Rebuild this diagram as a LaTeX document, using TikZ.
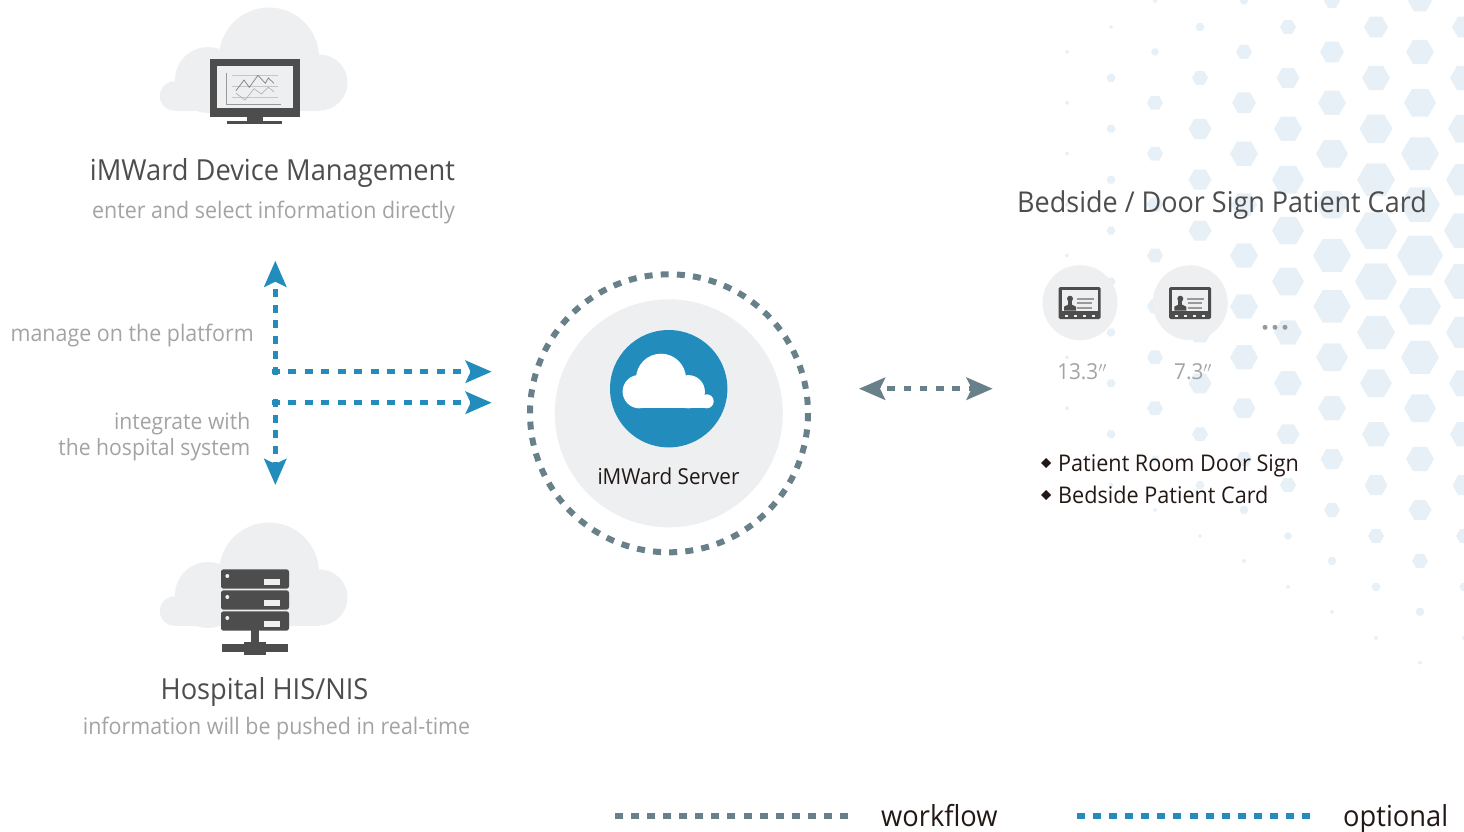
\documentclass[tikz,border=0pt]{standalone}
\usepackage{fontspec}
\setmainfont{Open Sans}[FakeStretch=0.94]
\usetikzlibrary{arrows.meta}
\definecolor{cloudgray}{HTML}{EEEFF1}
\definecolor{icondark}{HTML}{4D4D4D}
\definecolor{serverblue}{HTML}{228DBD}
\definecolor{flowgray}{HTML}{688089}
\definecolor{hexblue}{HTML}{E6F0F6}
\definecolor{softtext}{HTML}{A3A3A3}
\definecolor{darktext}{HTML}{231815}
\tikzset{
  hexcell/.style={fill=hexblue},
  headtext/.style={font=\fontsize{29}{34}\selectfont,text=icondark,inner sep=0pt},
  softlabel/.style={font=\fontsize{22.8}{26}\selectfont,text=softtext,inner sep=0pt,align=right},
  darklabel/.style={font=\fontsize{23}{28}\selectfont,text=darktext,inner sep=0pt},
  legendtext/.style={font=\fontsize{29}{34}\selectfont,text=darktext,inner sep=0pt},
  optionalline/.style={serverblue,line width=5.5pt,dash pattern=on 8pt off 8.5pt},
  workflowline/.style={flowgray,line width=5.5pt,dash pattern=on 7.5pt off 8.8pt},
  bigtip/.style={-{Stealth[length=26pt,width=22pt,inset=5pt]}},
  cloudbg/.pic={
    \fill[cloudgray] (269,57.5) circle (50);
    \fill[cloudgray] (208,80) circle (33);
    \fill[cloudgray] (174.5,96) circle (14.7);
    \fill[cloudgray] (319.5,82.5) circle (28);
    \fill[cloudgray] (175,85) rectangle (320,110.7);
  },
  devicecard/.pic={
    \fill[cloudgray] (0,0) circle (37.5);
    \fill[icondark,rounded corners=1.5pt] (-21.3,-15.7) rectangle (20.7,16.3);
    \fill[cloudgray] (-18.3,-13) rectangle (17.7,8);
    \fill[icondark] (-10,-4) circle (3);
    \fill[icondark] (-12,-2) rectangle (-8,3);
    \fill[icondark] (-16,8) -- (-16,4) -- (-11,1.5) -- (-9,1.5) -- (-4,4) -- (-4,8) -- cycle;
    \fill[gray!80] (-3.3,-5.2) rectangle (14,-2.8);
    \fill[gray!80] (-2.6,-0.4) rectangle (12,1.6);
    \fill[gray!80] (-2.6,4) rectangle (12,6);
    \foreach \dotx in {-13.7,-4.7,4.3,13.3}
      \fill[cloudgray] (\dotx-1.5,11.8) rectangle (\dotx+1.5,14.2);
  },
}
\begin{document}
\begin{tikzpicture}[x=1pt,y=-1pt]
  \useasboundingbox (0,0) rectangle (1464,831);
  % honeycomb behind the right side
  \foreach \cx/\cy/\sizes in {
      1067/1/{0,2,2,2,2,2,2,2,2},
      1111/27/{2,4.5,4.5,4.5,4.5,4.5,4.5,4.5,4.5,2.5},
      1155/1/{2,4,8,8,8,8,8,8,8,4,2},
      1200/27/{4.5,8,11.5,11.5,11.5,11.5,11.5,11.5,8,4.5,2},
      1244/1/{4,8,12,14,13,14,14,14,11.5,8,4.5,2},
      1288/27/{8,11.5,14,16,16,16,14,14,11.5,8,4,2},
      1332/1/{8,12,14,16,16,19,18.7,16,14,11.5,8,4.5,2},
      1376/27/{12,14,16.5,19,21,21,19,16,14,11.5,8,4.5,2},
      1420/1/{12,14,16,19,20,23,21,19,16,14,11.5,8,4.5,2},
      1464/27/{12,14,16,18,20,20,18,15,14,11.5,8,4.5,2}}{
    \foreach \r [count=\i from 0] in \sizes {
      \pgfmathsetmacro\celly{\cy+50.9*\i}
      \fill[hexcell] (\cx,\celly) +(0:\r) -- +(60:\r) -- +(120:\r) -- +(180:\r) -- +(240:\r) -- +(300:\r) -- cycle;
    }
  }

  % management block
  \pic at (0,0) {cloudbg};
  \fill[icondark] (209.7,59) rectangle (300.3,117.3);
  \fill[icondark] (246.7,117) rectangle (262.7,121);
  \fill[icondark] (227.3,120.7) rectangle (281.7,124);
  \fill[cloudgray] (216.7,65.7) rectangle (293.3,108.3);
  \draw[gray!45,line width=.5pt] (231.7,75.3) -- (278.3,75.3) (231.7,86.3) -- (278.3,86.3) (231.7,97.3) -- (278.3,97.3);
  \draw[gray!80,line width=.7pt] (226.3,72.7) -- (226.3,104.7) -- (281,104.7);
  \draw[gray,line width=.7pt] (236,90.7) -- (244,80) -- (249.3,87.3) -- (258,75.3) -- (265.3,83.3) -- (268.3,78) -- (274,83.3);
  \draw[gray!60,line width=.7pt] (236,93.3) -- (245,100) -- (254,88.7) -- (261.3,94) -- (268.3,87.3) -- (274,91.7);
  \node[headtext] (DeviceTitle) at (272.5,173) {iMWard Device Management};
  \node[softlabel] (DeviceNote) at (273.5,212.5) {enter and select information directly};

  % hospital block
  \pic at (0,515) {cloudbg};
  \foreach \rowy in {0,21,42}{
    \fill[icondark,rounded corners=2.5pt] (221,569.3+\rowy) rectangle (289,588.7+\rowy);
    \fill[cloudgray] (227.3,576+\rowy) circle (2);
    \fill[cloudgray] (264.3,579.3+\rowy) rectangle (279.7,584.7+\rowy);
  }
  \fill[icondark] (251.3,630) rectangle (259,643);
  \fill[icondark] (244.3,641.7) rectangle (265.7,655);
  \fill[icondark] (222,644.3) rectangle (288.3,651.7);
  \node[headtext] (HospitalTitle) at (264.5,692) {Hospital HIS/NIS};
  \node[softlabel] (HospitalNote) at (276.5,729) {information will be pushed in real-time};

  % server
  \fill[cloudgray] (668.8,413.3) circle (114);
  \draw[flowgray,line width=6pt,dash pattern=on 8pt off 8.17pt] (669,413.3) circle (139);
  \node[circle,fill=serverblue,minimum size=117.4pt,inner sep=0pt] (ServerBadge) at (668.7,388.7) {};
  \fill[white] (661,378.7) circle (25);
  \fill[white] (639.3,391.6) circle (16.7);
  \fill[white] (688.3,391.7) circle (16.6);
  \fill[white] (706.7,401.3) circle (7);
  \fill[white] (639,395) rectangle (706.7,408.3);
  \node[darklabel,font=\fontsize{22}{28}\selectfont] (ServerName) at (668.5,476) {iMWard Server};

  % arrows to the server
  \coordinate (UpStart)    at (275.3,374.5);
  \coordinate (UpTip)      at (275.3,260.7);
  \coordinate (DownStart)  at (275.3,399);
  \coordinate (DownTip)    at (275.3,485);
  \coordinate (TopStart)   at (271.5,371.7);
  \coordinate (TopTip)     at (491.7,371.7);
  \coordinate (LowStart)   at (271.5,402.7);
  \coordinate (LowTip)     at (491.7,402.7);
  \draw[optionalline,bigtip,dash pattern=on 8pt off 7.5pt] (UpStart) -- (UpTip);
  \draw[optionalline,bigtip,dash pattern=on 8pt off 7.7pt] (DownStart) -- (DownTip);
  \draw[optionalline,bigtip] (TopStart) -- (TopTip);
  \draw[optionalline,bigtip] (LowStart) -- (LowTip);
  \node[softlabel,anchor=east] (PlatformLabel) at (254,335.5) {manage on the platform};
  \node[softlabel,anchor=east,font=\fontsize{22.5}{26}\selectfont] (HospitalLabel) at (250.5,437) {integrate with\\the hospital system};

  % server to patient cards
  \coordinate (PairLeft)  at (859,388.7);
  \coordinate (PairRight) at (992.7,388.7);
  \draw[workflowline,dash phase=7.5pt,{Stealth[length=26pt,width=22pt,inset=5pt]}-{Stealth[length=26pt,width=22pt,inset=5pt]}] (PairLeft) -- (PairRight);

  % patient cards
  \node[headtext,font=\fontsize{28.7}{34}\selectfont] (CardTitle) at (1222,205) {Bedside / Door Sign Patient Card};
  \pic at (1080,302.7) {devicecard};
  \pic at (1190.3,302.7) {devicecard};
  \foreach \dotx in {1265,1275,1285}
    \fill[gray!80] (\dotx,327.3) circle (2.5);
  \node[softlabel,font=\fontsize{22}{26}\selectfont] (LargeSize) at (1082,372) {13.3$''$};
  \node[softlabel,font=\fontsize{22}{26}\selectfont] (SmallSize) at (1193,372) {7.3$''$};
  \foreach \rowy/\itemname/\itemtext in {463/RoomItem/Patient Room Door Sign,495/BedItem/Bedside Patient Card}{
    \fill[darktext] (1046,\rowy-5) -- (1051,\rowy) -- (1046,\rowy+5) -- (1041,\rowy) -- cycle;
    \node[darklabel,anchor=base west] (\itemname) at (1058,\rowy+8) {\itemtext};
  }

  % legend
  \coordinate (WorkflowStart) at (615,816);
  \coordinate (WorkflowEnd)   at (848,816);
  \coordinate (OptionalStart) at (1077,816);
  \coordinate (OptionalEnd)   at (1310,816);
  \draw[flowgray,line width=5.5pt,dash pattern=on 8pt off 8.07pt] (WorkflowStart) -- (WorkflowEnd);
  \draw[serverblue,line width=5.5pt,dash pattern=on 8pt off 8.07pt] (OptionalStart) -- (OptionalEnd);
  \node[legendtext,anchor=base west] (WorkflowLabel) at (881,826) {workflow};
  \node[legendtext,anchor=base west] (OptionalLabel) at (1343,826) {optional};
\end{tikzpicture}
\end{document}
